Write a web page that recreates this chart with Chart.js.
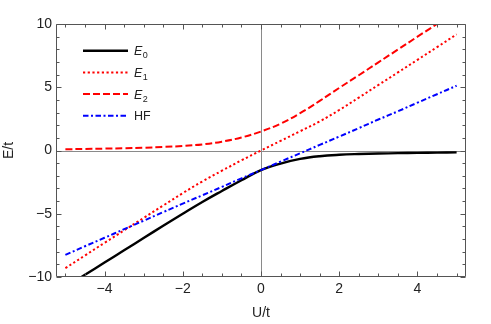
<!DOCTYPE html>
<html>
<head>
<meta charset="utf-8">
<script src="https://cdn.jsdelivr.net/npm/chart.js@4.4.1/dist/chart.umd.min.js"></script>
<style>
  html, body { margin: 0; padding: 0; background: #fff; }
  #wrap { width: 491px; height: 324px; position: relative; }
</style>
</head>
<body>
<div id="wrap"><canvas id="energyChart"></canvas></div>
<script>
// values, U/t on x
const uValues = [-5, -4.5, -4, -3.5, -3, -2.5, -2, -1.5, -1, -0.5, 0, 0.5, 1, 1.5, 2, 2.5, 3, 3.5, 4, 4.5, 5];
const e0Values = [-10.8, -9.83, -8.86, -7.89, -6.92, -5.95, -5.0, -4.07, -3.2, -2.35, -1.55, -1.03, -0.66, -0.45, -0.34, -0.28, -0.24, -0.21, -0.19, -0.17, -0.15];
const e1Values = [-9.3, -8.3, -7.3, -6.32, -5.33, -4.35, -3.37, -2.45, -1.6, -0.78, 0, 0.76, 1.52, 2.3, 3.2, 4.18, 5.18, 6.17, 7.17, 8.17, 9.18];
const e2Values = [0.1, 0.12, 0.15, 0.18, 0.22, 0.28, 0.36, 0.48, 0.7, 1.03, 1.5, 2.12, 2.95, 3.92, 4.95, 5.95, 6.97, 7.98, 9.0, 10.0, 11.0];
const hfValues = [-8.25, -7.57, -6.9, -6.22, -5.55, -4.87, -4.2, -3.54, -2.88, -2.2, -1.55, -0.88, -0.22, 0.44, 1.1, 1.77, 2.45, 3.1, 3.78, 4.45, 5.12];

const seriesNames = ["E0", "E1", "E2", "HF"];
const xTicks = [-4, -2, 0, 2, 4];
const yTicks = [-10, -5, 0, 5, 10];

const FONT = "'Liberation Sans', Arial, sans-serif";

function toPoints(ys) {
  return uValues.map((u, i) => ({ x: u, y: ys[i] }));
}

function fmt(v) {
  return String(v).replace("-", "\u2212");
}

// gray axes through the origin + frame with inward ticks
const frameTicks = {
  id: "frameTicks",
  beforeDatasetsDraw(chart) {
    const { ctx, chartArea: a, scales: { x, y } } = chart;
    const x0 = Math.round(x.getPixelForValue(0)) + 0.5;
    const y0 = Math.round(y.getPixelForValue(0)) + 0.5;
    ctx.save();
    ctx.strokeStyle = "#8a8a8a";
    ctx.lineWidth = 1;
    ctx.beginPath();
    ctx.moveTo(x0, a.top);
    ctx.lineTo(x0, a.bottom);
    ctx.moveTo(a.left, y0);
    ctx.lineTo(a.right, y0);
    ctx.stroke();
    ctx.restore();
  },
  afterDatasetsDraw(chart) {
    const { ctx, chartArea: a, scales: { x, y } } = chart;
    const L = Math.round(a.left) + 0.5, R = Math.round(a.right) - 0.5;
    const T = Math.round(a.top) + 0.5, B = Math.round(a.bottom) - 0.5;
    ctx.save();
    ctx.strokeStyle = "#555";
    ctx.lineWidth = 1;
    ctx.beginPath();
    ctx.rect(L, T, R - L, B - T);
    // x ticks every 0.5
    for (let k = -10; k <= 10; k++) {
      const v = k / 2;
      const px = Math.round(x.getPixelForValue(v)) + 0.5;
      const len = xTicks.includes(v) ? 5 : 3;
      ctx.moveTo(px, B); ctx.lineTo(px, B - len);
      ctx.moveTo(px, T); ctx.lineTo(px, T + len);
    }
    // y ticks every 1
    for (let v = -10; v <= 10; v++) {
      const py = Math.round(y.getPixelForValue(v)) + 0.5;
      const len = yTicks.includes(v) ? 5 : 3;
      ctx.moveTo(L, py); ctx.lineTo(L + len, py);
      ctx.moveTo(R, py); ctx.lineTo(R - len, py);
    }
    ctx.stroke();
    ctx.restore();
  }
};

// legend inside the plot, E with italic + subscript
const innerLegend = {
  id: "innerLegend",
  afterDraw(chart) {
    const { ctx, chartArea: a } = chart;
    ctx.save();
    chart.data.datasets.forEach((ds, i) => {
      const name = seriesNames[i];
      const yy = a.top + 26.7 + i * 21.7;
      ctx.strokeStyle = ds.borderColor;
      ctx.lineWidth = ds.borderWidth;
      ctx.setLineDash(ds.borderDash || []);
      ctx.beginPath();
      ctx.moveTo(a.left + 27, yy);
      ctx.lineTo(a.left + 72, yy);
      ctx.stroke();
      ctx.setLineDash([]);
      ctx.fillStyle = "#222";
      ctx.textBaseline = "alphabetic";
      ctx.textAlign = "left";
      const tx = a.left + 78;
      const base = yy + 4.5;
      const m = name.match(/^E(\d)$/);
      if (m) {
        ctx.font = "italic 12.5px " + FONT;
        ctx.fillText("E", tx, base);
        const w = ctx.measureText("E").width;
        ctx.font = "9px " + FONT;
        ctx.fillText(m[1], tx + w + 0.5, base + 3);
      } else {
        ctx.font = "12.5px " + FONT;
        ctx.fillText(name, tx, base);
      }
    });
    ctx.restore();
  }
};

const ctx = document.getElementById("energyChart").getContext("2d");

new Chart(ctx, {
  type: "line",
  data: {
    datasets: [
      {
        label: seriesNames[0],
        data: toPoints(e0Values),
        borderColor: "#000000",
        borderWidth: 2.4,
        order: 4,
      },
      {
        label: seriesNames[1],
        data: toPoints(e1Values),
        borderColor: "#ff0000",
        borderWidth: 2,
        borderDash: [2.2, 2.5],
        order: 3,
      },
      {
        label: seriesNames[2],
        data: toPoints(e2Values),
        borderColor: "#ff0000",
        borderWidth: 2,
        borderDash: [7, 3],
        order: 2,
      },
      {
        label: seriesNames[3],
        data: toPoints(hfValues),
        borderColor: "#0000ff",
        borderWidth: 2,
        borderDash: [5.5, 2.5, 2, 2.5],
        order: 1,
      },
    ],
  },
  options: {
    responsive: true,
    maintainAspectRatio: false,
    animation: false,
    layout: { padding: { left: 0, top: 24, right: 25, bottom: 0 } },
    elements: {
      point: { radius: 0, hoverRadius: 0 },
      line: { tension: 0.4, fill: false, borderCapStyle: "butt" },
    },
    datasets: { line: { clip: 0 } },
    scales: {
      x: {
        type: "linear",
        min: -5.24,
        max: 5.24,
        afterBuildTicks: (s) => { s.ticks = xTicks.map((v) => ({ value: v })); },
        afterFit: (s) => { s.height = 47; },
        grid: { display: false, drawTicks: false },
        border: { display: false },
        ticks: {
          padding: 4,
          color: "#222",
          font: { family: FONT, size: 14 },
          maxRotation: 0,
          callback: (v) => fmt(v),
        },
        title: {
          display: true,
          text: "U/t",
          color: "#222",
          font: { family: FONT, size: 14 },
          padding: { top: 0, bottom: 2 },
        },
      },
      y: {
        type: "linear",
        min: -10,
        max: 10,
        afterBuildTicks: (s) => { s.ticks = yTicks.map((v) => ({ value: v })); },
        afterFit: (s) => { s.width = 56; },
        grid: { display: false, drawTicks: false },
        border: { display: false },
        ticks: {
          padding: 4,
          color: "#222",
          font: { family: FONT, size: 14 },
          callback: (v) => fmt(v),
        },
        title: {
          display: true,
          text: "E/t",
          color: "#222",
          font: { family: FONT, size: 14 },
          padding: { top: 1, bottom: 0 },
        },
      },
    },
    plugins: {
      legend: { display: false },
      tooltip: { enabled: false },
    },
  },
  plugins: [frameTicks, innerLegend],
});
</script>
</body>
</html>
